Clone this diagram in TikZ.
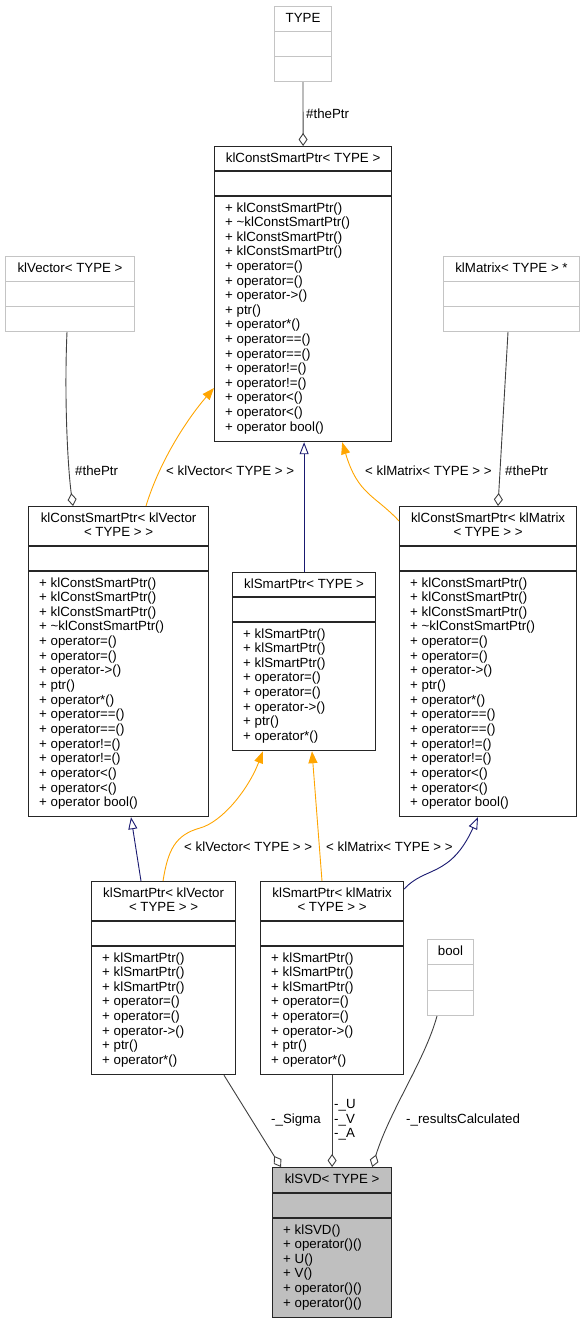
\documentclass[tikz,border=0pt]{standalone}
\usepackage{fontspec}
\setmainfont{Liberation Sans}
\usepackage{tikz}
\usetikzlibrary{arrows.meta}
\usepackage{xcolor}
\definecolor{edgegray}{HTML}{404040}
\definecolor{inhblue}{HTML}{191970}
\definecolor{tmplorange}{HTML}{FFA500}
\definecolor{extgray}{HTML}{C4C4C4}
\definecolor{svdfill}{HTML}{BFBFBF}

\begin{document}
\begin{tikzpicture}[x=1pt, y=-1pt,
  every node/.append style={font=\fontsize{13.3}{14.6}\selectfont, inner sep=0pt},
  cls/.style={draw=black!85, line width=1.2pt, anchor=north west},
  extcls/.style={draw=extgray, line width=1pt, anchor=north west},
  sepline/.style={draw=black!85, line width=1.2pt},
  extsep/.style={draw=extgray, line width=1pt},
  title/.style={anchor=base},
  member/.style={anchor=base west},
  elabel/.style={anchor=west},
  agg/.style={draw=edgegray, line width=0.9pt, -{Diamond[open, fill=white, length=13pt, width=9pt]}},
  inh/.style={draw=inhblue, line width=0.9pt, -{Triangle[open, fill=white, length=12pt, width=9pt]}},
  tmpl/.style={draw=tmplorange, line width=0.9pt, -{Triangle[length=12pt, width=9pt]}}]
\useasboundingbox (0,0) rectangle (585,1323);

% TYPE
\node[extcls, minimum width=57pt, minimum height=75pt] (tT) at (274,6) {};
\draw[extsep] ([yshift=-25pt]tT.north west) -- ([yshift=-25pt]tT.north east)
  ([yshift=-50pt]tT.north west) -- ([yshift=-50pt]tT.north east);
\node[title] (tT-t) at ([shift={(0,16)}]tT.north) {TYPE};

% klVector< TYPE >
\node[extcls, minimum width=129pt, minimum height=75pt] (vec) at (5,256) {};
\draw[extsep] ([yshift=-25pt]vec.north west) -- ([yshift=-25pt]vec.north east)
  ([yshift=-50pt]vec.north west) -- ([yshift=-50pt]vec.north east);
\node[title] (vec-t) at ([shift={(0,16)}]vec.north) {klVector< TYPE >};

% klMatrix< TYPE > *
\node[extcls, minimum width=136pt, minimum height=75pt] (mat) at (443,256) {};
\draw[extsep] ([yshift=-25pt]mat.north west) -- ([yshift=-25pt]mat.north east)
  ([yshift=-50pt]mat.north west) -- ([yshift=-50pt]mat.north east);
\node[title] (mat-t) at ([shift={(0,16)}]mat.north) {klMatrix< TYPE > *};

% bool
\node[extcls, minimum width=46pt, minimum height=76pt] (bool) at (427,939) {};
\draw[extsep] ([yshift=-25pt]bool.north west) -- ([yshift=-25pt]bool.north east)
  ([yshift=-51pt]bool.north west) -- ([yshift=-51pt]bool.north east);
\node[title] (bool-t) at ([shift={(0,16)}]bool.north) {bool};

% klConstSmartPtr< TYPE >
\node[cls, minimum width=177pt, minimum height=295pt] (cspT) at (214,146) {};
\draw[sepline] ([yshift=-25pt]cspT.north west) -- ([yshift=-25pt]cspT.north east)
  ([yshift=-50pt]cspT.north west) -- ([yshift=-50pt]cspT.north east);
\node[title] (cspT-t) at ([shift={(0,16)}]cspT.north) {klConstSmartPtr< TYPE >};
\foreach \m [count=\i from 0] in {+ klConstSmartPtr(), + \textasciitilde klConstSmartPtr(),
  + klConstSmartPtr(), + klConstSmartPtr(), + operator=(), + operator=(), + operator->(),
  + ptr(), + operator*(), + operator==(), + operator==(), + operator!=(), + operator!=(),
  + operator<(), + operator<(), + operator bool()}
  \node[member] (cspT-m\i) at ([shift={(11,{66+\i*14.6})}]cspT.north west) {\m};

% klConstSmartPtr< klVector< TYPE > >
\node[cls, minimum width=180pt, minimum height=310pt] (cspV) at (28,506) {};
\draw[sepline] ([yshift=-40pt]cspV.north west) -- ([yshift=-40pt]cspV.north east)
  ([yshift=-65pt]cspV.north west) -- ([yshift=-65pt]cspV.north east);
\node[title] (cspV-t1) at ([shift={(0,16)}]cspV.north) {klConstSmartPtr< klVector};
\node[title] (cspV-t2) at ([shift={(0,30.5)}]cspV.north) {< TYPE > >};
\foreach \m [count=\i from 0] in {+ klConstSmartPtr(), + klConstSmartPtr(), + klConstSmartPtr(),
  + \textasciitilde klConstSmartPtr(), + operator=(), + operator=(), + operator->(),
  + ptr(), + operator*(), + operator==(), + operator==(), + operator!=(), + operator!=(),
  + operator<(), + operator<(), + operator bool()}
  \node[member] (cspV-m\i) at ([shift={(11,{81+\i*14.65})}]cspV.north west) {\m};

% klConstSmartPtr< klMatrix< TYPE > >
\node[cls, minimum width=177pt, minimum height=310pt] (cspM) at (399,506) {};
\draw[sepline] ([yshift=-40pt]cspM.north west) -- ([yshift=-40pt]cspM.north east)
  ([yshift=-65pt]cspM.north west) -- ([yshift=-65pt]cspM.north east);
\node[title] (cspM-t1) at ([shift={(0,16)}]cspM.north) {klConstSmartPtr< klMatrix};
\node[title] (cspM-t2) at ([shift={(0,30.5)}]cspM.north) {< TYPE > >};
\foreach \m [count=\i from 0] in {+ klConstSmartPtr(), + klConstSmartPtr(), + klConstSmartPtr(),
  + \textasciitilde klConstSmartPtr(), + operator=(), + operator=(), + operator->(),
  + ptr(), + operator*(), + operator==(), + operator==(), + operator!=(), + operator!=(),
  + operator<(), + operator<(), + operator bool()}
  \node[member] (cspM-m\i) at ([shift={(11,{81+\i*14.65})}]cspM.north west) {\m};

% klSmartPtr< TYPE >
\node[cls, minimum width=143pt, minimum height=178pt] (sp) at (232,572) {};
\draw[sepline] ([yshift=-25pt]sp.north west) -- ([yshift=-25pt]sp.north east)
  ([yshift=-50pt]sp.north west) -- ([yshift=-50pt]sp.north east);
\node[title] (sp-t) at ([shift={(0,16)}]sp.north) {klSmartPtr< TYPE >};
\foreach \m [count=\i from 0] in {+ klSmartPtr(), + klSmartPtr(), + klSmartPtr(),
  + operator=(), + operator=(), + operator->(), + ptr(), + operator*()}
  \node[member] (sp-m\i) at ([shift={(11,{66+\i*14.6})}]sp.north west) {\m};

% klSmartPtr< klVector< TYPE > >
\node[cls, minimum width=144pt, minimum height=193pt] (spV) at (91,881) {};
\draw[sepline] ([yshift=-40pt]spV.north west) -- ([yshift=-40pt]spV.north east)
  ([yshift=-65pt]spV.north west) -- ([yshift=-65pt]spV.north east);
\node[title] (spV-t1) at ([shift={(0,16)}]spV.north) {klSmartPtr< klVector};
\node[title] (spV-t2) at ([shift={(0,30.5)}]spV.north) {< TYPE > >};
\foreach \m [count=\i from 0] in {+ klSmartPtr(), + klSmartPtr(), + klSmartPtr(),
  + operator=(), + operator=(), + operator->(), + ptr(), + operator*()}
  \node[member] (spV-m\i) at ([shift={(11,{81+\i*14.6})}]spV.north west) {\m};

% klSmartPtr< klMatrix< TYPE > >
\node[cls, minimum width=143pt, minimum height=193pt] (spM) at (260,881) {};
\draw[sepline] ([yshift=-40pt]spM.north west) -- ([yshift=-40pt]spM.north east)
  ([yshift=-65pt]spM.north west) -- ([yshift=-65pt]spM.north east);
\node[title] (spM-t1) at ([shift={(0,16)}]spM.north) {klSmartPtr< klMatrix};
\node[title] (spM-t2) at ([shift={(0,30.5)}]spM.north) {< TYPE > >};
\foreach \m [count=\i from 0] in {+ klSmartPtr(), + klSmartPtr(), + klSmartPtr(),
  + operator=(), + operator=(), + operator->(), + ptr(), + operator*()}
  \node[member] (spM-m\i) at ([shift={(11,{81+\i*14.6})}]spM.north west) {\m};

% klSVD< TYPE >
\node[cls, fill=svdfill, minimum width=119pt, minimum height=150pt] (svd) at (272,1167) {};
\draw[sepline] ([yshift=-26pt]svd.north west) -- ([yshift=-26pt]svd.north east)
  ([yshift=-51pt]svd.north west) -- ([yshift=-51pt]svd.north east);
\node[title] (svd-t) at ([shift={(0,16)}]svd.north) {klSVD< TYPE >};
\foreach \m [count=\i from 0] in {+ klSVD(), + operator()(), + U(), + V(),
  + operator()(), + operator()()}
  \node[member] (svd-m\i) at ([shift={(11,{67+\i*14.6})}]svd.north west) {\m};

% connectors
\draw[agg] (tT.south) -- (cspT.north);
\node[elabel] (lbl-ptrT) at (306,114) {\#thePtr};
\draw[agg] ([xshift=62pt]vec.south west) .. controls (64,400) and (68,470) .. ([xshift=45pt]cspV.north west);
\node[elabel] (lbl-ptrV) at (75,471) {\#thePtr};
\draw[tmpl] ([xshift=118pt]cspV.north west) .. controls (160,460) and (188,418) .. ([yshift=-242pt]cspT.north west);
\node[elabel] (lbl-tmplV1) at (166,471) {< klVector< TYPE > >};
\draw[inh] (sp.north) -- (sp.north |- cspT.south);
\draw[tmpl] ([yshift=-15pt]cspM.north west) .. controls (375,495) and (358,495) .. ([xshift=-50pt]cspT.south east);
\node[elabel] (lbl-tmplM1) at (365,471) {< klMatrix< TYPE > >};
\draw[agg] ([xshift=65pt]mat.south west) -- ([xshift=99pt]cspM.north west);
\node[elabel] (lbl-ptrM) at (505,471) {\#thePtr};
\draw[inh] ([xshift=50pt]spV.north west) -- ([xshift=103pt]cspV.south west);
\draw[tmpl] ([xshift=72pt]spV.north west) .. controls (168,850) and (175,835) .. (200,828)
  .. controls (222,822) and (248,790) .. ([xshift=31pt]sp.south west);
\node[elabel] (lbl-tmplV2) at (184,847) {< klVector< TYPE > >};
\draw[tmpl] ([xshift=62pt]spM.north west) -- ([xshift=80pt]sp.south west);
\node[elabel] (lbl-tmplM2) at (326,847) {< klMatrix< TYPE > >};
\draw[inh] ([yshift=-8pt]spM.north east) .. controls (425,866) and (450,878) .. ([xshift=79pt]cspM.south west);
\draw[agg] ([xshift=133pt]spV.south west) -- ([xshift=9pt]svd.north west);
\node[elabel] (lbl-sigma) at (271,1120) {-\_Sigma};
\draw[agg] (spM.south) -- (svd.north);
\node[elabel, align=left] (lbl-uva) at (334,1120) {-\_U\\-\_V\\-\_A};
\draw[agg] ([xshift=10pt]bool.south west) .. controls (425,1060) and (390,1110) .. ([xshift=-20pt]svd.north east);
\node[elabel] (lbl-res) at (406,1120) {-\_resultsCalculated};
\end{tikzpicture}
\end{document}
